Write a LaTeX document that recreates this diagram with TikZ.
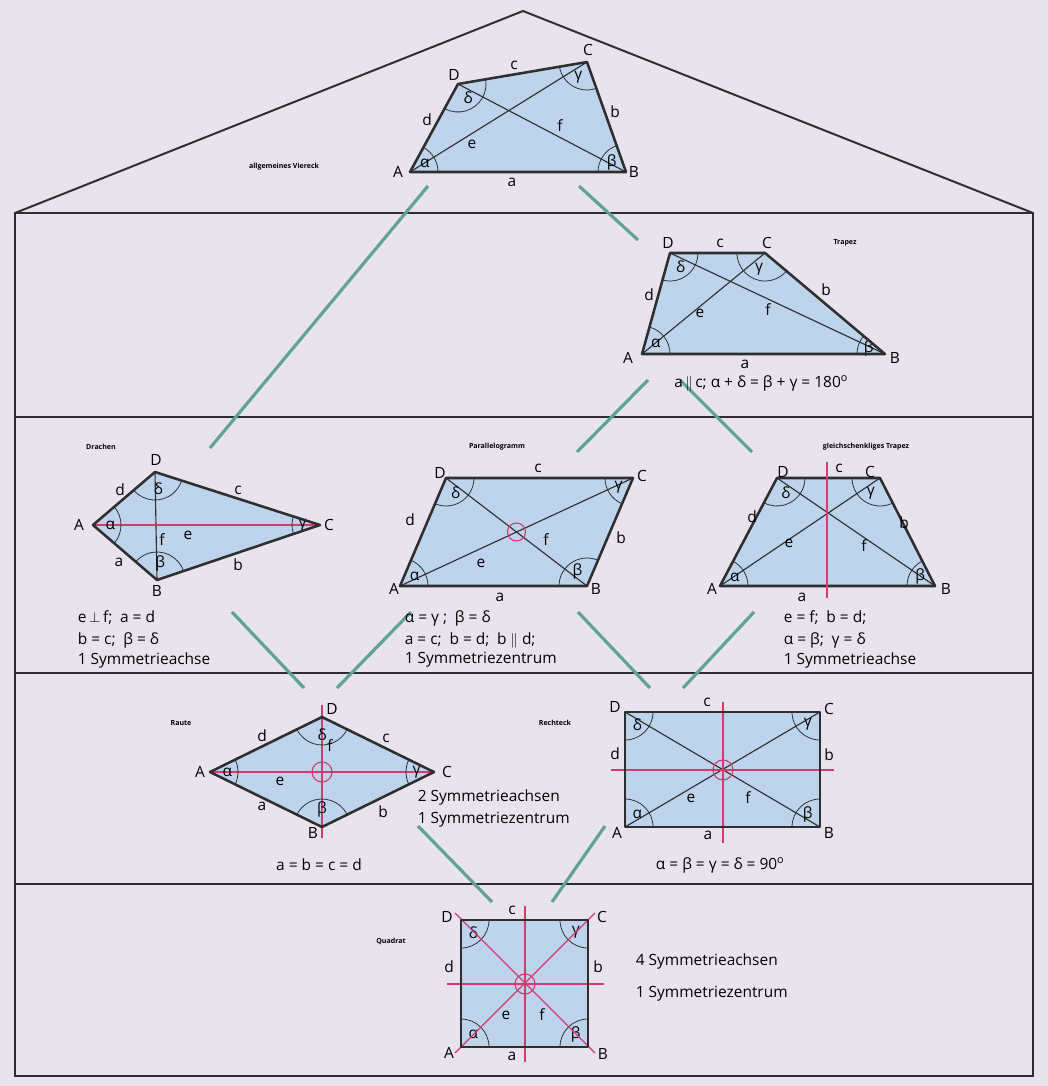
\documentclass[tikz,border=0pt]{standalone}
\usepackage{fontspec}
\setmainfont{Open Sans}
\usetikzlibrary{angles,quotes,calc}
\definecolor{hgrund}{HTML}{E9E3EE}
\definecolor{flaeche}{HTML}{BDD4EC}
\definecolor{linie}{HTML}{2E2E2E}
\definecolor{verbgruen}{HTML}{5FA394}
\definecolor{achsrot}{HTML}{D9386E}
\newcommand{\viereck}[5]{%
  \coordinate (#1A) at (#2);
  \coordinate (#1B) at (#3);
  \coordinate (#1C) at (#4);
  \coordinate (#1D) at (#5);
  \fill[flaeche] (#1A) -- (#1B) -- (#1C) -- (#1D) -- cycle;}
\newcommand{\winkelbogen}[1]{%
  \pic[winkel,"α"] {angle=#1B--#1A--#1D};
  \pic[winkel,"β"] {angle=#1C--#1B--#1A};
  \pic[winkel,"γ"] {angle=#1D--#1C--#1B};
  \pic[winkel,"δ"] {angle=#1A--#1D--#1C};}
\newcommand{\umriss}[1]{%
  \draw[kante] (#1A) -- (#1B) -- (#1C) -- (#1D) -- cycle;}
\tikzset{
  kante/.style={draw=linie, line width=3.6pt, line join=round},
  diag/.style={draw=linie, line width=1.6pt},
  achse/.style={draw=achsrot, line width=1.6pt},
  winkel/.style={draw=linie, line width=1.1pt, angle radius=1.4cm,
    angle eccentricity=0.62, pic text options={fill=flaeche, inner sep=0.5pt}},
  verb/.style={draw=verbgruen, line width=4.5pt},
  haus/.style={draw=linie, line width=2.8pt},
  titel/.style={font=\bfseries},
  txt/.style={anchor=west}
}
\begin{document}
\begin{tikzpicture}[x=0.05cm, y=-0.05cm, font=\fontsize{22}{26}\selectfont,
  inner sep=1pt]
  \fill[hgrund] (0,0) rectangle (1048,1086);
  \useasboundingbox (0,0) rectangle (1048,1086);

  % Haus
  \draw[haus] (15,213) -- (523,11) -- (1033,213);
  \draw[haus] (15,213) rectangle (1033,1076);
  \foreach \y in {417,673,884}
    \draw[haus] (15,\y) -- (1033,\y);

  % Verbindungen
  \foreach \xa/\ya/\xb/\yb in {428/186/210/448, 579/186/638/240,
      648/380/577/452, 680/380/752/452, 232/612/304/688, 411/612/337/688,
      578/612/650/688, 754/612/683/688, 418/826/492/902, 605/826/552/902}
    \draw[verb] (\xa,\ya) -- (\xb,\yb);

  % allgemeines Viereck
  \viereck{v}{410,172}{626,172}{587,62}{458,84}
  \draw[diag] (vA) -- (vC);
  \draw[diag] (vB) -- (vD);
  \winkelbogen{v}
  \umriss{v}
  \node[titel] (vT) at (284,167) {allgemeines Viereck};
  \node (vlA) at (398,172) {A};
  \node (vlB) at (634,172) {B};
  \node (vlC) at (588,50) {C};
  \node (vlD) at (454,75) {D};
  \node (vla) at (512,182) {a};
  \node (vlb) at (615,112) {b};
  \node (vlc) at (514,65) {c};
  \node (vld) at (427,120) {d};
  \node (vle) at (472,144) {e};
  \node (vlf) at (560,126) {f};

  % Trapez
  \viereck{t}{642,354}{885,354}{765,253}{670,253}
  \draw[diag] (tA) -- (tC);
  \draw[diag] (tB) -- (tD);
  \winkelbogen{t}
  \umriss{t}
  \node[titel] (tT) at (845,243) {Trapez};
  \node (tlA) at (628,358) {A};
  \node (tlB) at (895,358) {B};
  \node (tlC) at (767,243) {C};
  \node (tlD) at (668,243) {D};
  \node (tla) at (745,364) {a};
  \node (tlb) at (826,290) {b};
  \node (tlc) at (720,243) {c};
  \node (tld) at (649,295) {d};
  \node (tle) at (700,313) {e};
  \node (tlf) at (768,310) {f};
  \node (tF) at (761,383) {a\,$\|$\,c; α + δ = β + γ = 180$^{\mathrm{o}}$};

  % Drachen
  \viereck{k}{93,525}{157,580}{320,525}{155,472}
  \draw[diag] (kB) -- (kD);
  \draw[achse] (kA) -- (kC);
  \winkelbogen{k}
  \umriss{k}
  \node[titel] (kT) at (101,447) {Drachen};
  \node (klA) at (79,525) {A};
  \node (klB) at (157,591) {B};
  \node (klC) at (329,525) {C};
  \node (klD) at (156,460) {D};
  \node (kla) at (119,562) {a};
  \node (klb) at (238,565) {b};
  \node (klc) at (238,490) {c};
  \node (kld) at (120,490) {d};
  \node (kle) at (188,535) {e};
  \node (klf) at (162,540) {f};
  \node[txt] (kF1) at (77,618) {e\,$\perp$\,f;\enspace a = d};
  \node[txt] (kF2) at (77,640) {b = c;\enspace β = δ};
  \node[txt] (kF3) at (77,660) {1 Symmetrieachse};

  % Parallelogramm
  \viereck{p}{400,586}{587,586}{633,478}{446,478}
  \draw[diag] (pA) -- (pC);
  \draw[diag] (pB) -- (pD);
  \winkelbogen{p}
  \umriss{p}
  \draw[achse] ($(pA)!0.5!(pC)$) circle (0.45cm);
  \node[titel] (pT) at (497,447) {Parallelogramm};
  \node (plA) at (394,589) {A};
  \node (plB) at (596,589) {B};
  \node (plC) at (642,476) {C};
  \node (plD) at (440,473) {D};
  \node (pla) at (500,597) {a};
  \node (plb) at (621,538) {b};
  \node (plc) at (538,468) {c};
  \node (pld) at (410,520) {d};
  \node (ple) at (481,563) {e};
  \node (plf) at (546,540) {f};
  \node[txt] (pF1) at (404,618) {α = γ ;\enspace β = δ};
  \node[txt] (pF2) at (404,640) {a = c;\enspace b = d;\enspace b $\|$ d;};
  \node[txt] (pF3) at (404,660) {1 Symmetriezentrum};

  % gleichschenkliges Trapez
  \viereck{g}{720,586}{935,586}{880,478}{777,478}
  \draw[diag] (gA) -- (gC);
  \draw[diag] (gB) -- (gD);
  \winkelbogen{g}
  \umriss{g}
  \draw[achse] (827,462) -- (827,598);
  \node[titel] (gT) at (866,447) {gleichschenkliges Trapez};
  \node (glA) at (712,589) {A};
  \node (glB) at (946,589) {B};
  \node (glC) at (870,472) {C};
  \node (glD) at (783,472) {D};
  \node (gla) at (802,597) {a};
  \node (glb) at (904,523) {b};
  \node (glc) at (839,468) {c};
  \node (gld) at (752,517) {d};
  \node (gle) at (789,543) {e};
  \node (glf) at (864,546) {f};
  \node[txt] (gF1) at (783,618) {e = f;\enspace b = d;};
  \node[txt] (gF2) at (783,640) {α = β;\enspace γ = δ};
  \node[txt] (gF3) at (783,660) {1 Symmetrieachse};

  % Raute
  \viereck{r}{210,772}{322,827}{434,772}{322,717}
  \draw[achse] (rA) -- (rC);
  \draw[achse] (322,705) -- (322,838);
  \winkelbogen{r}
  \umriss{r}
  \draw[achse] ($(rA)!0.5!(rC)$) circle (0.5cm);
  \node[titel] (rT) at (181,723) {Raute};
  \node (rlA) at (200,772) {A};
  \node (rlB) at (313,833) {B};
  \node (rlC) at (447,772) {C};
  \node (rlD) at (332,709) {D};
  \node (rla) at (262,806) {a};
  \node (rlb) at (383,812) {b};
  \node (rlc) at (386,738) {c};
  \node (rld) at (262,736) {d};
  \node (rle) at (280,781) {e};
  \node (rlf) at (330,746) {f};
  \node[txt] (rF1) at (417,797) {2 Symmetrieachsen};
  \node[txt] (rF2) at (417,820) {1 Symmetriezentrum};
  \node (rF3) at (319,865) {a = b = c = d};

  % Rechteck
  \viereck{h}{625,827}{820,827}{820,712}{625,712}
  \draw[diag] (hA) -- (hC);
  \draw[diag] (hB) -- (hD);
  \winkelbogen{h}
  \draw[achse] (611,770) -- (834,770);
  \draw[achse] (723,702) -- (723,843);
  \umriss{h}
  \draw[achse] (723,770) circle (0.5cm);
  \node[titel] (hT) at (555,723) {Rechteck};
  \node (hlA) at (617,833) {A};
  \node (hlB) at (829,833) {B};
  \node (hlC) at (829,709) {C};
  \node (hlD) at (615,707) {D};
  \node (hla) at (708,835) {a};
  \node (hlb) at (829,755) {b};
  \node (hlc) at (707,702) {c};
  \node (hld) at (615,754) {d};
  \node (hle) at (691,798) {e};
  \node (hlf) at (748,798) {f};
  \node (hF) at (720,865) {α = β = γ = δ = 90$^{\mathrm{o}}$};

  % Quadrat
  \viereck{q}{461,1047}{588,1047}{588,920}{461,920}
  \winkelbogen{q}
  \draw[achse] (455,1053) -- (595,913);
  \draw[achse] (455,913) -- (595,1053);
  \draw[achse] (447,984) -- (604,984);
  \draw[achse] (525,906) -- (525,1062);
  \umriss{q}
  \draw[achse] (525,984) circle (0.5cm);
  \node[titel] (qT) at (391,941) {Quadrat};
  \node (qlA) at (449,1053) {A};
  \node (qlB) at (603,1054) {B};
  \node (qlC) at (602,917) {C};
  \node (qlD) at (447,917) {D};
  \node (qla) at (512,1056) {a};
  \node (qlb) at (598,967) {b};
  \node (qlc) at (512,910) {c};
  \node (qld) at (449,967) {d};
  \node (qle) at (506,1015) {e};
  \node (qlf) at (542,1015) {f};
  \node[txt] (qF1) at (635,961) {4 Symmetrieachsen};
  \node[txt] (qF2) at (635,994) {1 Symmetriezentrum};
\end{tikzpicture}
\end{document}
